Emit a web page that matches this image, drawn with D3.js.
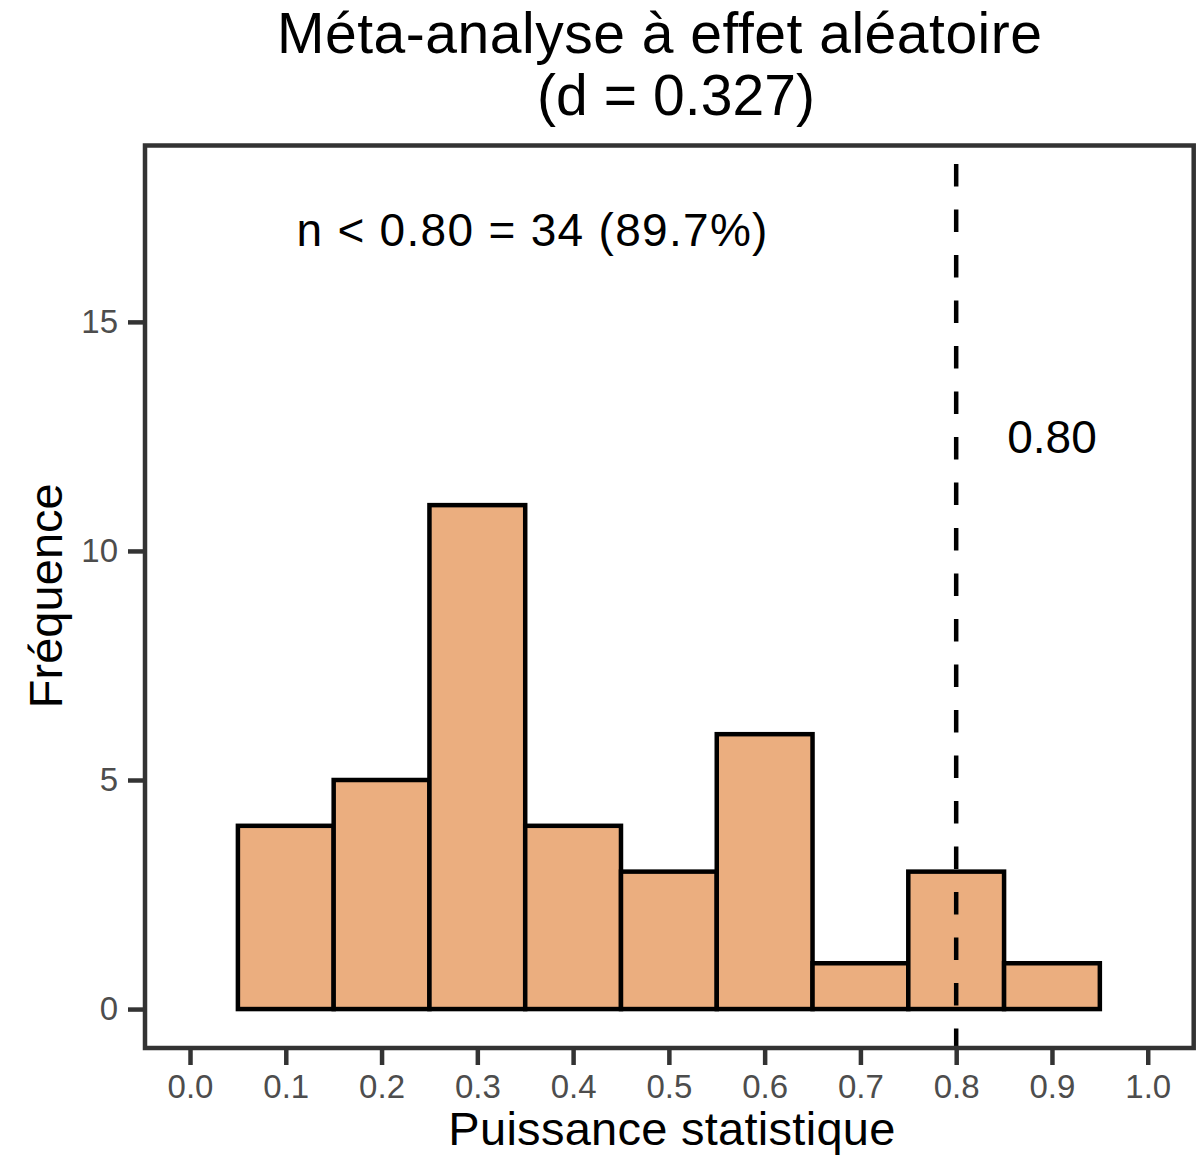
<!DOCTYPE html>
<html>
<head>
<meta charset="utf-8">
<script src="https://cdn.jsdelivr.net/npm/d3@7"></script>
<style>
  html, body { margin: 0; padding: 0; background: #ffffff; }
  svg { display: block; }
  text { font-family: "Liberation Sans", Arial, Helvetica, sans-serif; }
</style>
</head>
<body>
<svg id="chart" width="1204" height="1155"></svg>
<script>
// ---- data ----
const binCentres = [0.1, 0.2, 0.3, 0.4, 0.5, 0.6, 0.7, 0.8, 0.9];
const counts     = [4, 5, 11, 4, 3, 6, 1, 3, 1];
const binWidth   = 0.1;
const xTicks     = [0.0, 0.1, 0.2, 0.3, 0.4, 0.5, 0.6, 0.7, 0.8, 0.9, 1.0];
const yTicks     = [0, 5, 10, 15];
const threshold  = 0.80;
const titleLines = ["Méta-analyse à effet aléatoire", "(d = 0.327)"];
const xLabel     = "Puissance statistique";
const yLabel     = "Fréquence";
const noteText   = "n < 0.80 = 34 (89.7%)";
const notePos    = [0.357, 17];
const threshText = "0.80";
const threshPos  = [0.9, 12.5];

// ---- layout ----
const panel = { left: 145, right: 1193.7, top: 145.5, bottom: 1048 };
const svg = d3.select("#chart");

const x = d3.scaleLinear().domain([-0.047, 1.048]).range([panel.left, panel.right]);
const y = d3.scaleLinear().domain([-0.85, 18.85]).range([panel.bottom, panel.top]);

svg.append("defs").append("clipPath").attr("id", "clip")
  .append("rect")
  .attr("x", panel.left).attr("y", panel.top)
  .attr("width", panel.right - panel.left).attr("height", panel.bottom - panel.top);

const bins = binCentres.map((c, i) => ({ x0: c - binWidth / 2, x1: c + binWidth / 2, n: counts[i] }));

// bars
svg.append("g").selectAll("rect").data(bins).join("rect")
  .attr("x", d => x(d.x0))
  .attr("y", d => y(d.n))
  .attr("width", d => x(d.x1) - x(d.x0))
  .attr("height", d => y(0) - y(d.n))
  .attr("fill", "#EBAE7F")
  .attr("stroke", "#000000")
  .attr("stroke-width", 4.5)
  .attr("stroke-linejoin", "miter");

// threshold line (drawn from bottom up, clipped to panel)
svg.append("line")
  .attr("clip-path", "url(#clip)")
  .attr("x1", x(threshold)).attr("x2", x(threshold))
  .attr("y1", y.range()[0]).attr("y2", y.range()[1])
  .attr("stroke", "#000000")
  .attr("stroke-width", 4.5)
  .attr("stroke-dasharray", "22.5,23")
  .attr("stroke-dashoffset", 3);

// annotations
svg.append("text")
  .attr("x", x(notePos[0])).attr("y", y(notePos[1]))
  .attr("dy", "0.35em")
  .attr("text-anchor", "middle")
  .attr("font-size", 46)
  .attr("textLength", 471)
  .attr("lengthAdjust", "spacing")
  .attr("fill", "#000000")
  .text(noteText);

svg.append("text")
  .attr("x", x(threshPos[0])).attr("y", y(threshPos[1]))
  .attr("dy", "0.35em")
  .attr("text-anchor", "middle")
  .attr("font-size", 46)
  .attr("fill", "#000000")
  .text(threshText);

// panel border
svg.append("rect")
  .attr("x", panel.left).attr("y", panel.top)
  .attr("width", panel.right - panel.left).attr("height", panel.bottom - panel.top)
  .attr("fill", "none")
  .attr("stroke", "#333333")
  .attr("stroke-width", 4.5);

// x axis
const xAxis = svg.append("g")
  .attr("transform", `translate(0,${panel.bottom})`)
  .call(d3.axisBottom(x).tickValues(xTicks).tickFormat(d3.format(".1f")).tickSize(17).tickPadding(10));
xAxis.select(".domain").remove();
xAxis.selectAll(".tick line").attr("stroke", "#333333").attr("stroke-width", 4.5);
xAxis.selectAll(".tick text").attr("fill", "#4D4D4D").attr("font-size", 33)
  .style("font-family", "'Liberation Sans', Arial, sans-serif");

// y axis
const yAxis = svg.append("g")
  .attr("transform", `translate(${panel.left},0)`)
  .call(d3.axisLeft(y).tickValues(yTicks).tickFormat(d3.format("d")).tickSize(17).tickPadding(10));
yAxis.select(".domain").remove();
yAxis.selectAll(".tick line").attr("stroke", "#333333").attr("stroke-width", 4.5);
yAxis.selectAll(".tick text").attr("fill", "#4D4D4D").attr("font-size", 33)
  .style("font-family", "'Liberation Sans', Arial, sans-serif");

// axis titles
const cx = (panel.left + panel.right) / 2;
const cy = (panel.top + panel.bottom) / 2;
svg.append("text")
  .attr("x", cx + 2.5).attr("y", 1145)
  .attr("text-anchor", "middle")
  .attr("font-size", 47)
  .attr("textLength", 447)
  .attr("lengthAdjust", "spacing")
  .attr("fill", "#000000")
  .text(xLabel);

svg.append("text")
  .attr("transform", `translate(62,${cy - 1}) rotate(-90)`)
  .attr("text-anchor", "middle")
  .attr("font-size", 47)
  .attr("textLength", 225)
  .attr("lengthAdjust", "spacing")
  .attr("fill", "#000000")
  .text(yLabel);

// title (each line centred as in the reference)
const titleCentres = [659.5, 676];
const titleWidths  = [765, 278];
svg.append("g").selectAll("text").data(titleLines).join("text")
  .attr("x", (d, i) => titleCentres[i])
  .attr("y", (d, i) => 53 + i * 62)
  .attr("text-anchor", "middle")
  .attr("font-size", 57)
  .attr("textLength", (d, i) => titleWidths[i])
  .attr("lengthAdjust", "spacing")
  .attr("fill", "#000000")
  .text(d => d);
</script>
</body>
</html>
